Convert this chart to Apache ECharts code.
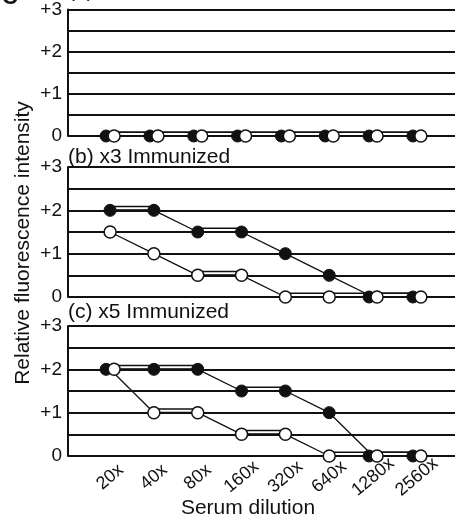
<!DOCTYPE html>
<html>
<head>
<meta charset="utf-8">
<script src="https://cdn.jsdelivr.net/npm/echarts@6/dist/echarts.min.js"></script>
<style>
html, body { margin: 0; padding: 0; background: #fff; }
#chart { width: 455px; height: 520px; }
</style>
</head>
<body>
<div id="chart"></div>
<script>
// dilution categories (x) and y tick labels
const dilutions = ['20x', '40x', '80x', '160x', '320x', '640x', '1280x', '2560x'];
const yTicks = ['0', '+1', '+2', '+3'];
const panelTitles = ['(a) Preimmune', '(b) x3 Immunized', '(c) x5 Immunized'];

// filled = black dots, open = white dots
const filledA = [0, 0, 0, 0, 0, 0, 0, 0];
const openA = [0, 0, 0, 0, 0, 0, 0, 0];
const filledB = [2, 2, 1.5, 1.5, 1, 0.5, 0, 0];
const openB = [1.5, 1, 0.5, 0.5, 0, 0, 0, 0];
const filledC = [2, 2, 2, 1.5, 1.5, 1, 0, 0];
const openC = [2, 1, 1, 0.5, 0.5, 0, 0, 0];

const panels = [[filledA, openA], [filledB, openB], [filledC, openC]];
const gridTops = [6, 167, 326];
const FONT = '"Liberation Sans", Arial, sans-serif';
const INK = '#111';

const chart = echarts.init(document.getElementById('chart'), null, { renderer: 'canvas' });

const grids = [], xAxes = [], yAxes = [], series = [];

panels.forEach(([filled, open], i) => {
  grids.push({ left: 68, right: 0, top: gridTops[i], height: 130 });
  xAxes.push({
    type: 'value', gridIndex: i, min: -0.96, max: 7.87,
    axisLine: { show: false }, axisTick: { show: false }, splitLine: { show: false },
    axisLabel: {
      show: i === 2,
      customValues: dilutions.map((d, k) => k),
      formatter: v => dilutions[v],
      rotate: 40, align: 'center', verticalAlign: 'middle', margin: 21,
      fontSize: 18, fontFamily: FONT, color: INK
    }
  });
  yAxes.push({
    type: 'value', gridIndex: i, min: 0, max: 3, interval: 0.5,
    axisLine: { show: true, onZero: false, lineStyle: { color: INK, width: 2 } },
    axisTick: { show: false },
    splitLine: { show: true, lineStyle: { color: INK, width: 2 } },
    axisLabel: {
      formatter: v => (v % 1 === 0 ? yTicks[v] : ''),
      fontSize: 19, fontFamily: FONT, color: INK, margin: 6
    }
  });

  // flat stretches are drawn as a double ("tube") line
  const flats = [];
  [filled, open].forEach(vals => {
    for (let k = 0; k < vals.length - 1; k++) {
      if (vals[k] === vals[k + 1]) flats.push([k, k + 1, vals[k]]);
    }
  });
  series.push({
    type: 'custom', xAxisIndex: i, yAxisIndex: i, z: 2, silent: true,
    encode: { x: [0, 1], y: 2 },
    data: flats,
    renderItem: (params, api) => {
      const a = api.coord([api.value(0), api.value(2)]);
      const b = api.coord([api.value(1), api.value(2)]);
      const y = a[1] - 2;
      return {
        type: 'group', children: [
          { type: 'line', shape: { x1: a[0], y1: y, x2: b[0], y2: y }, style: { stroke: INK, lineWidth: 5 } },
          { type: 'line', shape: { x1: a[0], y1: y, x2: b[0], y2: y }, style: { stroke: '#fff', lineWidth: 2 } }
        ]
      };
    }
  });

  const mk = (vals, other, isFilled) => ({
    type: 'line', xAxisIndex: i, yAxisIndex: i, z: isFilled ? 3 : 4, silent: true,
    symbol: 'circle', symbolSize: 12,
    data: vals.map((v, k) => ({
      value: [k, v],
      symbolOffset: [v === other[k] ? (isFilled ? -4 : 4) : 0, 0]
    })),
    lineStyle: { color: INK, width: 1.3 },
    itemStyle: { color: isFilled ? INK : '#fff', borderColor: INK, borderWidth: isFilled ? 1 : 1.5 }
  });
  series.push(mk(filled, open, true));
  series.push(mk(open, filled, false));
});

const txt = (text, x, y, extra) => ({
  type: 'text', x, y, silent: true,
  style: Object.assign({ text, fontSize: 21, fontFamily: FONT, fill: INK, align: 'left', verticalAlign: 'middle' }, extra)
});

chart.setOption({
  animation: false,
  backgroundColor: '#fff',
  grid: grids,
  xAxis: xAxes,
  yAxis: yAxes,
  series: series,
  graphic: [
    txt('C', 2, 9, { fontWeight: 'bold', fontSize: 22, verticalAlign: 'bottom' }),
    txt(panelTitles[0], 68, -8.5),
    txt(panelTitles[1], 68, 157),
    txt(panelTitles[2], 68, 312),
    Object.assign(txt('Relative fluorescence intensity', 23, 243, { align: 'center' }), { rotation: Math.PI / 2 }),
    txt('Serum dilution', 248, 508, { align: 'center' })
  ]
});
</script>
</body>
</html>
